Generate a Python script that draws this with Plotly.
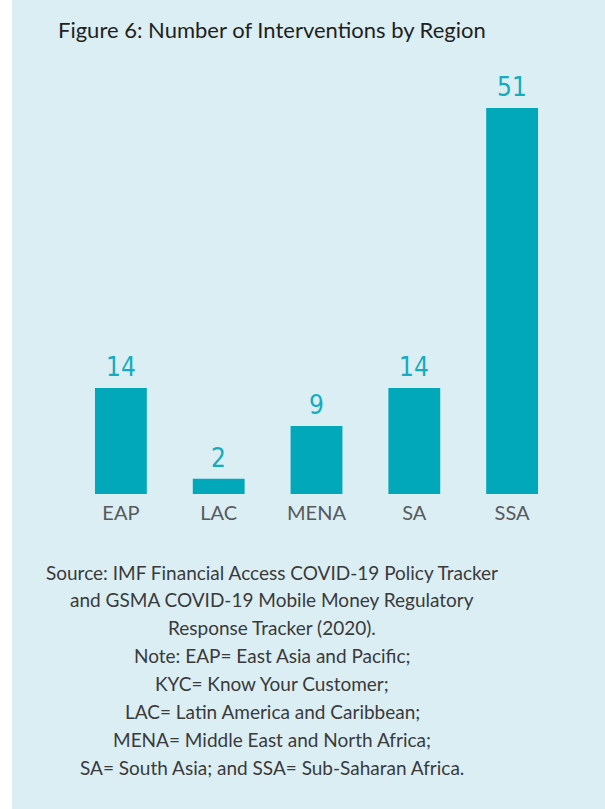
import plotly.graph_objects as go

regions = ["EAP", "LAC", "MENA", "SA", "SSA"]
interventions = [14, 2, 9, 14, 51]

title_text = "Figure 6: Number of Interventions by Region"
caption_lines = [
    "Source: IMF Financial Access COVID-19 Policy Tracker",
    "and GSMA COVID-19 Mobile Money Regulatory",
    "Response Tracker (2020).",
    "Note: EAP= East Asia and Pacific;",
    "KYC= Know Your Customer;",
    "LAC= Latin America and Caribbean;",
    "MENA= Middle East and North Africa;",
    "SA= South Asia; and SSA= Sub-Saharan Africa.",
]

BG = "#daeef4"
TEAL = "#00a8ba"
W, H = 605, 809
ML, MR, MT, MB = 72, 44, 108, 315
PW = W - ML - MR
PH = H - MT - MB

fig = go.Figure()
fig.add_trace(go.Bar(x=regions, y=interventions, marker=dict(color=TEAL, line=dict(width=0)),
                     hoverinfo="x+y"))

for r, v in zip(regions, interventions):
    fig.add_annotation(x=r, y=v, text=str(v), showarrow=False, yanchor="bottom",
                       yshift=4, font=dict(family="Liberation Sans Narrow, DejaVu Sans Condensed, sans-serif",
                                           size=26, color="#14acbe"))

cx = (272 - ML) / PW
fig.add_annotation(xref="paper", yref="paper", x=cx, y=1 + (MT - 30) / PH,
                   text=title_text, showarrow=False, xanchor="center", yanchor="middle",
                   font=dict(family="Lato, sans-serif", size=22, color="#231f20", weight="normal"))

line_gap = 27.9
first_y = 572
for i, line in enumerate(caption_lines):
    ypix = first_y + i * line_gap
    fig.add_annotation(xref="paper", yref="paper", x=cx, y=-(ypix - (H - MB)) / PH,
                       text=line, showarrow=False, xanchor="center", yanchor="middle",
                       font=dict(family="Lato, sans-serif", size=19, color="#3a3a3a", weight="normal"))

# white strip on left edge
fig.add_shape(type="rect", xref="paper", yref="paper", x0=-ML / PW, x1=(12 - ML) / PW,
              y0=-MB / PH, y1=1 + MT / PH,
              fillcolor="white", line=dict(width=0), layer="below")

fig.update_layout(
    width=W, height=H,
    margin=dict(l=ML, r=MR, t=MT, b=MB),
    paper_bgcolor=BG, plot_bgcolor=BG,
    bargap=0.47,
    showlegend=False,
    xaxis=dict(showgrid=False, zeroline=False, showline=False, ticks="",
               ticklabelstandoff=5,
               tickfont=dict(family="Lato, sans-serif", size=20, color="#58595b", weight="normal")),
    yaxis=dict(range=[0, 51], visible=False, showgrid=False, zeroline=False),
)

fig.write_html("out.html", config={"displayModeBar": False},
               post_script="document.body.style.margin='0';document.body.style.overflow='hidden';")
